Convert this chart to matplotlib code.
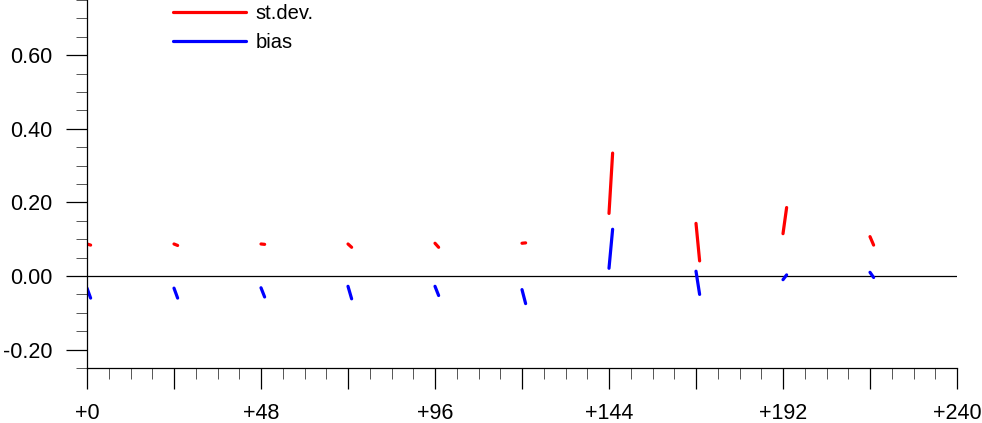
import matplotlib
matplotlib.use('Agg')
import matplotlib.pyplot as plt
from matplotlib.ticker import MultipleLocator, FuncFormatter

# forecast lead (h) where each short segment starts; each spans one hour
lead = [0, 24, 48, 72, 96, 120, 144, 168, 192, 216]
stdev_start = [0.087, 0.087, 0.087, 0.087, 0.089, 0.089, 0.170, 0.143, 0.115, 0.107]
stdev_end = [0.084, 0.083, 0.086, 0.078, 0.078, 0.090, 0.334, 0.041, 0.186, 0.084]
bias_start = [-0.033, -0.033, -0.032, -0.028, -0.028, -0.037, 0.021, 0.013, -0.010, 0.010]
bias_end = [-0.060, -0.060, -0.057, -0.062, -0.053, -0.075, 0.127, -0.050, 0.003, -0.004]

plt.rcParams['font.family'] = ['Liberation Sans', 'DejaVu Sans']

fig = plt.figure(figsize=(9.82, 4.23), dpi=100)
ax = fig.add_axes([87 / 982, 55 / 423, 870 / 982, 368 / 423])

ax.axhline(0, color='black', lw=0.9, zorder=1)

for i, t in enumerate(lead):
    ax.plot([t, t + 1], [stdev_start[i], stdev_end[i]], color='red', lw=2.3,
            solid_capstyle='round', label='st.dev.' if i == 0 else None)
    ax.plot([t, t + 1], [bias_start[i], bias_end[i]], color='blue', lw=2.3,
            solid_capstyle='round', label='bias' if i == 0 else None)

ax.set_xlim(0, 240)
ax.set_ylim(-0.25, 0.75)

ax.spines['top'].set_visible(False)
ax.spines['right'].set_visible(False)
ax.spines['left'].set_linewidth(0.9)
ax.spines['bottom'].set_linewidth(0.9)

ax.xaxis.set_major_locator(MultipleLocator(24))
ax.xaxis.set_minor_locator(MultipleLocator(6))
ax.xaxis.set_major_formatter(FuncFormatter(lambda v, p: f'+{int(v)}' if int(v) % 48 == 0 else ''))
ax.yaxis.set_major_locator(MultipleLocator(0.2))
ax.yaxis.set_minor_locator(MultipleLocator(0.05))
ax.yaxis.set_major_formatter(FuncFormatter(lambda v, p: f'{v:.2f}'))

ax.tick_params(axis='both', which='major', length=15, width=0.9, labelsize=15.5)
ax.tick_params(axis='both', which='minor', length=8, width=0.7, color='#555555')
ax.tick_params(axis='x', which='major', pad=10.5)
ax.tick_params(axis='y', which='major', pad=10)

ax.legend(loc='upper left', bbox_to_anchor=(0.099, 0.99), frameon=False,
          fontsize=14.5, handlelength=3.6, handletextpad=0.5, labelspacing=0.5,
          borderpad=0, borderaxespad=0)

fig.savefig('out.png', dpi=100)
